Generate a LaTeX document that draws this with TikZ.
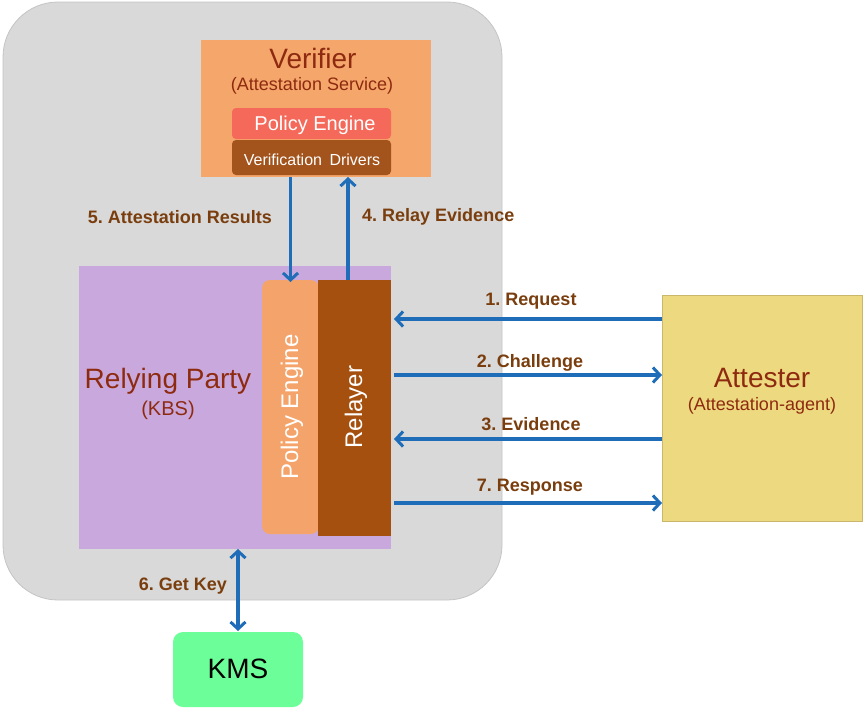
\documentclass[tikz,border=0pt]{standalone}
\usepackage{fontspec}
\setmainfont{Liberation Sans}
\usetikzlibrary{arrows.meta}
\frenchspacing
\definecolor{bggrey}{HTML}{D9D9D9}
\definecolor{bgedge}{HTML}{C4C4C4}
\definecolor{verorange}{HTML}{F5A66B}
\definecolor{pered}{HTML}{F4695A}
\definecolor{vdbrown}{HTML}{A3531C}
\definecolor{rplav}{HTML}{C9A9DD}
\definecolor{peorange}{HTML}{F4A46A}
\definecolor{relbrown}{HTML}{A5500F}
\definecolor{attyellow}{HTML}{EDD97F}
\definecolor{kmsgreen}{HTML}{6CFF99}
\definecolor{titlered}{HTML}{8E2A10}
\definecolor{lblbrown}{HTML}{7A3E0E}
\definecolor{arrblue}{HTML}{1F6DB8}
\tikzset{
  box/.style={anchor=north west, inner sep=0pt, outer sep=0pt, draw=none},
  tipb/.tip={Straight Barb[length=7pt,width=15pt,line width=3pt]},
  arr/.style={draw=arrblue, line width=3.2pt, -tipb},
  arrboth/.style={draw=arrblue, line width=3.2pt, tipb-tipb},
  lbl/.style={text=lblbrown, font=\bfseries\fontsize{18}{20}\selectfont, inner sep=0pt},
  ttl/.style={text=titlered, font=\fontsize{28}{30}\selectfont, inner sep=0pt},
  sub/.style={text=titlered, font=\fontsize{18}{20}\selectfont, inner sep=0pt},
  wtxt/.style={text=white, inner sep=0pt}
}
\begin{document}
\begin{tikzpicture}[x=1pt,y=-1pt]
\useasboundingbox (0,0) rectangle (865,713);
% grey container
\node[box, fill=bggrey, draw=bgedge, line width=0.8pt, rounded corners=55pt, minimum width=499pt, minimum height=598pt] (cont) at (3,2) {};
% verifier
\node[box, fill=verorange, minimum width=230pt, minimum height=137pt] (ver) at (201,40) {};
\node[ttl] (vert) at (313,58) {Verifier};
\node[sub] (vers) at (312,86) {(Attestation Service)};
\node[box, fill=pered, rounded corners=4pt, minimum width=159pt, minimum height=31pt] (vpe) at (232,108) {};
\node[wtxt, font=\fontsize{20}{22}\selectfont] (vpet) at (315,125) {Policy Engine};
\node[box, fill=vdbrown, rounded corners=4pt, minimum width=159pt, minimum height=35pt] (vd) at (232,140) {};
\node[wtxt, font=\fontsize{16}{18}\selectfont] (vdt) at (312,160) {Verification\hspace{3pt} Drivers};
% relying party
\node[box, fill=rplav, minimum width=312pt, minimum height=283pt] (rp) at (79,266) {};
\node[ttl] (rpt) at (168,381) {Relying Party};
\node[sub, font=\fontsize{20}{22}\selectfont] (rps) at (168,410) {(KBS)};
\node[box, fill=peorange, rounded corners=8pt, minimum width=57pt, minimum height=254pt] (pe) at (262,280) {};
\node[box, fill=relbrown, minimum width=73pt, minimum height=256pt] (rl) at (318,280) {};
\node[wtxt, rotate=90, font=\fontsize{24}{26}\selectfont] (pet) at (292,407) {Policy Engine};
\node[wtxt, rotate=90, font=\fontsize{24}{26}\selectfont] (rlt) at (356,407) {Relayer};
% attester
\node[box, fill=attyellow, draw=attyellow!85!black, line width=0.5pt, minimum width=200pt, minimum height=226pt] (att) at (662,295) {};
\node[ttl] (attt) at (762,378) {Attester};
\node[sub] (atts) at (762,406) {(Attestation-agent)};
% KMS
\node[box, fill=kmsgreen, rounded corners=10pt, minimum width=130pt, minimum height=75pt] (kms) at (173,632) {};
\node[inner sep=0pt, font=\fontsize{28}{30}\selectfont] (kmst) at (238,669) {KMS};
% helper coordinates
\coordinate (y1) at (0,319);
\coordinate (y2) at (0,375);
\coordinate (y3) at (0,439);
\coordinate (y4) at (0,503);
\coordinate (xr) at (394,0);
\coordinate (xa) at (348,0);
\coordinate (xk) at (238,0);
% arrows
\draw[arr] (ver.south -| pe.north) -- ([yshift=-2pt]pe.north);
\draw[arr] (xa |- rl.north) -- (xa |- ver.south);
\draw[arr] (att.west |- y1) -- (xr |- y1);
\draw[arr] (xr |- y2) -- (att.west |- y2);
\draw[arr] (att.west |- y3) -- (xr |- y3);
\draw[arr] (xr |- y4) -- (att.west |- y4);
\draw[arrboth] (xk |- rp.south) -- ([yshift=1pt]xk |- kms.north);
% labels
\node[lbl] (l5) at (180,217) {5. Attestation Results};
\node[lbl, anchor=west] (l4) at (362,217) {4. Relay Evidence};
\node[lbl] (l1) at (531,301) {1. Request};
\node[lbl] (l2) at (530,363) {2. Challenge};
\node[lbl] (l3) at (531,424) {3. Evidence};
\node[lbl] (l7) at (530,487) {7. Response};
\node[lbl] (l6) at (183,586) {6. Get Key};
\end{tikzpicture}
\end{document}
